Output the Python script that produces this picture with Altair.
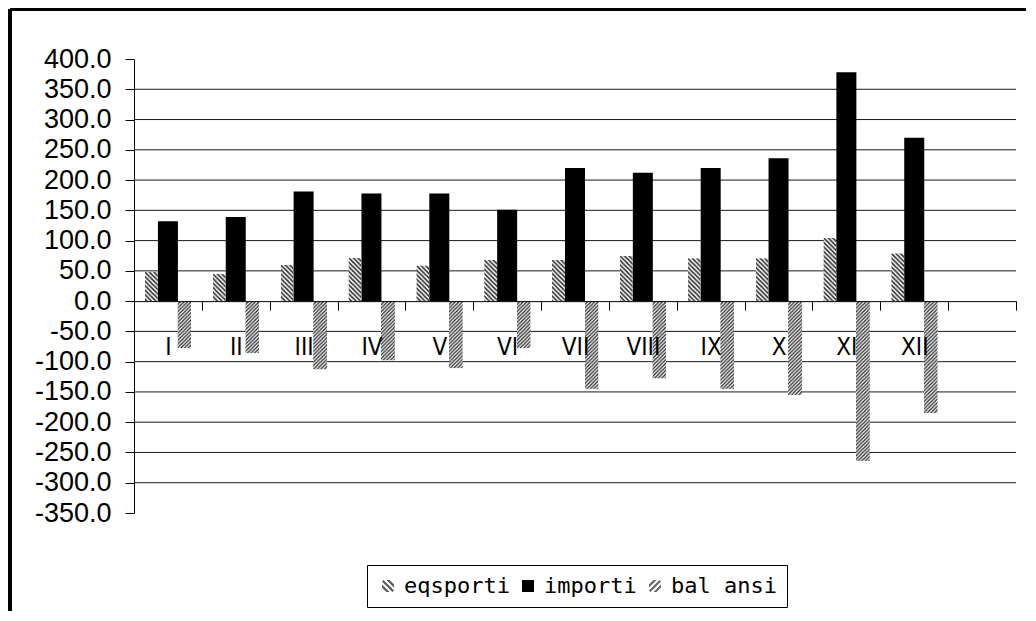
import base64
import altair as alt
import pandas as pd

# ---- data ----
months = ["I", "II", "III", "IV", "V", "VI", "VII", "VIII", "IX", "X", "XI", "XII"]
slots = months + [" "]  # the category axis has one empty slot at the end
eqsporti = [48, 45, 60, 72, 59, 68, 68, 75, 71, 71, 105, 79]
importi = [132, 139, 181, 178, 178, 151, 220, 212, 220, 236, 378, 270]
balansi = [-78, -86, -113, -98, -111, -78, -145, -128, -145, -155, -264, -185]
series_names = ["eqsporti", "importi", "bal ansi"]
y_ticks = [-350, -300, -250, -200, -150, -100, -50, 0, 50, 100, 150, 200, 250, 300, 350, 400]
grid_values = [v for v in y_ticks if v not in (-350, 0, 400)]

rows = []
for name, vals in zip(series_names, [eqsporti, importi, balansi]):
    for m, v in zip(months, vals):
        rows.append({"month": m, "series": name, "value": v})
df = pd.DataFrame(rows)
grid_df = pd.DataFrame({"value": grid_values})

W, H = 882, 454
Y_MIN, Y_MAX = -350, 400


def hatch_url(direction, period, color, sw):
    s = period
    if direction == "back":
        d = f"M0,0 L{s},{s} M-1,{s-1} L1,{s+1} M{s-1},-1 L{s+1},1"
    else:
        d = f"M0,{s} L{s},0 M-1,1 L1,-1 M{s-1},{s+1} L{s+1},{s-1}"
    svg = (
        '<svg xmlns="http://www.w3.org/2000/svg" width="100%" height="100%">'
        f'<defs><pattern id="p" width="{s}" height="{s}" patternUnits="userSpaceOnUse">'
        f'<rect width="{s}" height="{s}" fill="white"/>'
        f'<path d="{d}" stroke="{color}" stroke-width="{sw}"/></pattern></defs>'
        '<rect width="100%" height="100%" fill="url(#p)"/></svg>'
    )
    return "data:image/svg+xml;base64," + base64.b64encode(svg.encode()).decode()


url_eq = hatch_url("back", 4.5, "#333333", 1.7)
url_bal = hatch_url("fwd", 3.6, "#333333", 1.4)

xscale = alt.Scale(domain=slots, paddingInner=0, paddingOuter=0)
yscale = alt.Scale(domain=[Y_MIN, Y_MAX], nice=False, zero=False)

x_axis = alt.Axis(
    orient="bottom",
    offset=-(H * (0 - Y_MIN) / (Y_MAX - Y_MIN)),
    tickBand="extent",
    tickSize=9,
    tickColor="black",
    domainColor="black",
    labelAngle=0,
    labelFont="Liberation Sans Narrow, DejaVu Sans Condensed, Liberation Sans",
    labelFontSize=24,
    labelColor="black",
    labelPadding=25,
    labelBaseline="top",
    labelOverlap=False,
    labelLimit=0,
    grid=False,
    zindex=1,
)
y_axis = alt.Axis(
    values=y_ticks,
    labelExpr="(datum.value < 0 ? '-' : '') + format(abs(datum.value), '.1f')",
    labelFont="Liberation Sans, Arial",
    labelFontSize=27,
    labelColor="black",
    labelPadding=14,
    tickSize=9,
    tickColor="black",
    domainColor="black",
    grid=False,
    zindex=0,
)

x_enc = alt.X("month:N", scale=xscale, sort=slots, title=None, axis=x_axis)
y_enc = alt.Y("value:Q", scale=yscale, title=None, axis=y_axis)

base = alt.Chart(df)

grid = alt.Chart(grid_df).mark_rule(color="#1a1a1a", strokeWidth=1).encode(y=y_enc)

eq_layer = base.transform_filter(alt.datum.series == "eqsporti").mark_image(
    aspect=False, width=13, xOffset=-16.5
).encode(x=x_enc, y=y_enc, y2=alt.datum(0), url=alt.value(url_eq))

bal_layer = base.transform_filter(alt.datum.series == "bal ansi").mark_image(
    aspect=False, width=14, xOffset=16.5
).encode(x=x_enc, y=y_enc, y2=alt.datum(0), url=alt.value(url_bal))

imp_layer = base.transform_filter(alt.datum.series == "importi").mark_bar(
    color="black", width=20
).encode(x=x_enc, y=y_enc, y2=alt.datum(0))

# hatch-like legend symbols (unit square paths)
back_path = ("M-1,-0.75L-0.75,-1L1,0.75L0.75,1Z "
             "M-1,-0.25L-1,0.25L-0.25,1L0.25,1Z "
             "M-0.25,-1L0.25,-1L1,-0.25L1,0.25Z")
fwd_path = ("M1,-0.75L0.75,-1L-1,0.75L-0.75,1Z "
            "M1,-0.25L1,0.25L0.25,1L-0.25,1Z "
            "M0.25,-1L-0.25,-1L-1,-0.25L-1,0.25Z")

leg = alt.Legend(
    title=None,
    orient="none",
    direction="horizontal",
    legendX=233,
    legendY=506,
    strokeColor="black",
    fillColor="white",
    padding=10,
    symbolSize=144,
    symbolOpacity=1,
    symbolStrokeWidth=0,
    labelFont="DejaVu Sans Mono",
    labelFontSize=22,
    labelColor="black",
    labelOffset=5,
    columnPadding=7,
)

legend_layer = base.mark_point(opacity=0, filled=True).encode(
    x=x_enc,
    y=y_enc,
    color=alt.Color(
        "series:N",
        scale=alt.Scale(domain=series_names, range=["#555555", "black", "#666666"]),
        sort=series_names,
        legend=leg,
    ),
    shape=alt.Shape(
        "series:N",
        scale=alt.Scale(domain=series_names, range=[back_path, "square", fwd_path]),
        sort=series_names,
        legend=leg,
    ),
)

frame_top = alt.Chart(grid_df).mark_rule(color="black", strokeWidth=3).encode(
    x=alt.value(-124), x2=alt.value(892), y=alt.value(-49.5)
)
frame_left = alt.Chart(grid_df).mark_rule(color="black", strokeWidth=3).encode(
    x=alt.value(-124), y=alt.value(-49.5), y2=alt.value(552)
)

chart = alt.layer(
    grid, eq_layer, bal_layer, imp_layer, legend_layer, frame_top, frame_left
).resolve_scale(x="shared", y="shared").properties(
    width=W, height=H, padding=0, background="white"
).configure_view(stroke=None)

chart.save("out.html", embed_options={"renderer": "svg", "actions": False})
